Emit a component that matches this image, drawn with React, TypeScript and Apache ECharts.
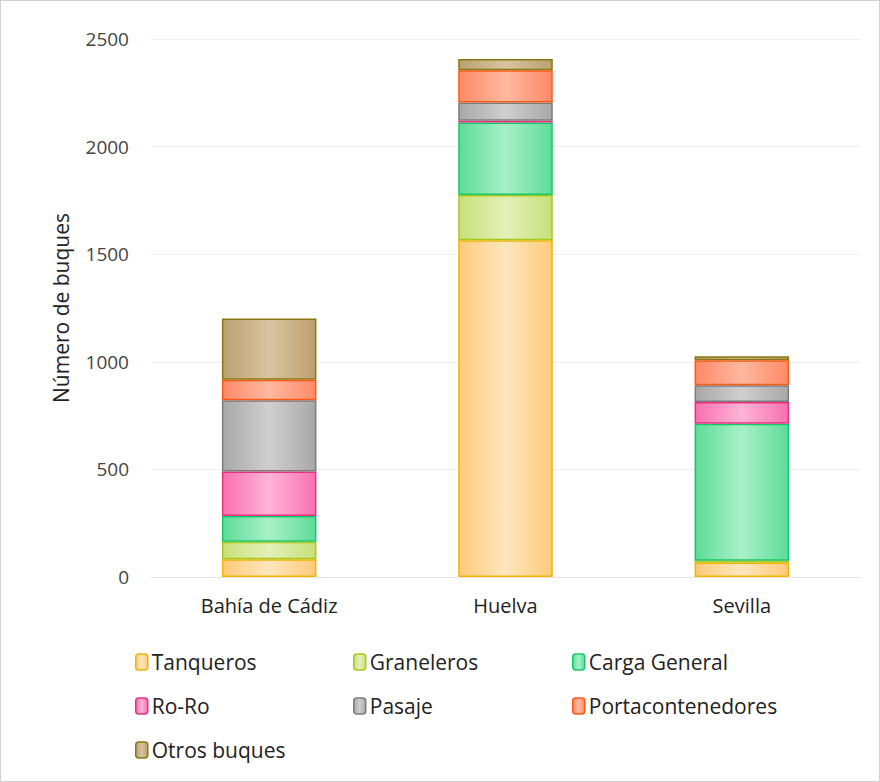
import React, { useEffect, useRef } from "react";
import * as echarts from "echarts";

const categories = ["Bahía de Cádiz", "Huelva", "Sevilla"];
const seriesNames = ["Tanqueros", "Graneleros", "Carga General", "Ro-Ro", "Pasaje", "Portacontenedores", "Otros buques"];
const tanqueros = [82, 1565, 67];
const graneleros = [82, 210, 9];
const cargaGeneral = [120, 337, 636];
const roRo = [206, 8, 101];
const pasaje = [331, 85, 78];
const portacontenedores = [96, 150, 116];
const otrosBuques = [284, 52, 19];
const yTicks = [0, 500, 1000, 1500, 2000, 2500];

const values = [tanqueros, graneleros, cargaGeneral, roRo, pasaje, portacontenedores, otrosBuques];
const fills = [
  ["#FCCB7A", "#FEE6BE"],
  ["#C8E07A", "#E4F0B8"],
  ["#5EDC98", "#A8F0C8"],
  ["#F870B0", "#FFB4D6"],
  ["#A8A8A8", "#CFCFCF"],
  ["#FF8A68", "#FFB8A0"],
  ["#BCA070", "#D8C4A0"],
];
const borders = ["#F2B400", "#A9C81E", "#18C868", "#E8307E", "#7C7C7C", "#FF5A14", "#8A7812"];

export default function App() {
  const ref = useRef<HTMLDivElement>(null);
  useEffect(() => {
    const chart = echarts.init(ref.current!, null, { renderer: "svg" });
    const font = "'Open Sans', sans-serif";
    const grad = (i: number) =>
      new echarts.graphic.LinearGradient(0, 0, 1, 0, [
        { offset: 0, color: fills[i][0] },
        { offset: 0.5, color: fills[i][1] },
        { offset: 1, color: fills[i][0] },
      ]);
    const legendCols = [
      { left: 129, names: ["Tanqueros", "Ro-Ro", "Otros buques"] },
      { left: 347, names: ["Graneleros", "Pasaje"] },
      { left: 566, names: ["Carga General", "Portacontenedores"] },
    ];
    chart.setOption({
      animation: false,
      backgroundColor: "#ffffff",
      legend: legendCols.map((c) => ({
        data: c.names,
        left: c.left,
        top: 643,
        orient: "vertical",
        itemGap: 18,
        itemWidth: 12,
        itemHeight: 16,
        itemStyle: { borderWidth: 1.5 },
        textStyle: { fontFamily: font, fontSize: 21, color: "#222", padding: [0, 0, 0, -1], lineHeight: 26 },
      })),
      grid: { left: 150, right: 19, top: 38, bottom: 204 },
      xAxis: {
        type: "category",
        data: categories,
        axisLine: { show: true, lineStyle: { color: "#e6e6e6" } },
        axisTick: { show: false },
        axisLabel: { fontFamily: font, fontSize: 20, color: "#222", margin: 18 },
      },
      yAxis: {
        type: "value",
        min: 0,
        max: 2500,
        interval: 500,
        name: "Número de buques",
        nameLocation: "middle",
        nameRotate: 90,
        nameGap: 80,
        nameTextStyle: { fontFamily: font, fontSize: 21, color: "#222" },
        axisLine: { show: false },
        axisTick: { show: false },
        splitLine: { lineStyle: { color: "#efefef" } },
        axisLabel: {
          fontFamily: font,
          fontSize: 19,
          color: "#444",
          margin: 22,
          formatter: (v: number) => (yTicks.includes(v) ? String(v) : ""),
        },
      },
      series: seriesNames.map((name, i) => ({
        name,
        type: "bar",
        stack: "total",
        barWidth: "40%",
        data: values[i],
        itemStyle: { color: grad(i), borderColor: borders[i], borderWidth: 1.5 },
      })),
    });
    return () => chart.dispose();
  }, []);
  return (
    <div
      ref={ref}
      style={{ position: "absolute", left: 0, top: 0, width: 880, height: 782, boxSizing: "border-box", border: "1px solid #d0d0d0" }}
    />
  );
}
